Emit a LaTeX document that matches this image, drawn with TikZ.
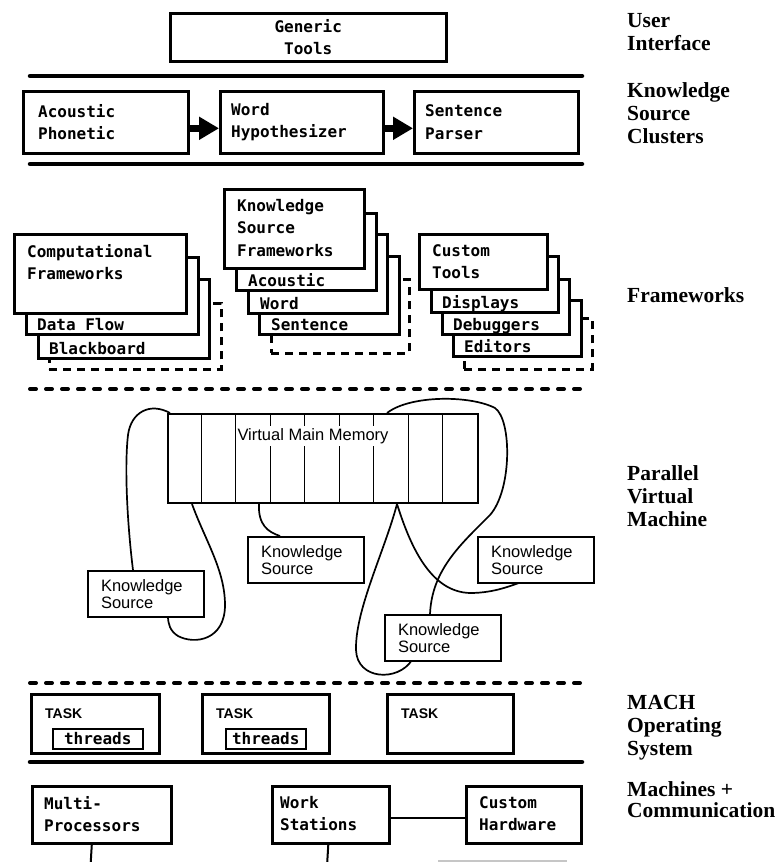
\documentclass[tikz,border=0pt]{standalone}
\usepackage{fontspec}
\newfontfamily\monofont{DejaVu Sans Mono}
\newfontfamily\helvfont{Liberation Sans}
\newfontfamily\labelfont{Liberation Serif}
\usetikzlibrary{calc,arrows.meta}

\begin{document}
\begin{tikzpicture}[x=1pt, y=-1pt,
    every node/.style={inner sep=0pt},
    box/.style={draw, line width=2.6pt, fill=white, anchor=north west},
    dashcard/.style={box, dash pattern=on 8pt off 6pt},
    mono/.style={font=\monofont\bfseries\fontsize{16}{22.5}\selectfont, align=left, anchor=north west},
    cardtext/.style={font=\monofont\bfseries\fontsize{16}{22.5}\selectfont, anchor=base west},
    tasktext/.style={font=\helvfont\bfseries\fontsize{14}{16}\selectfont, anchor=base west},
    ksbox/.style={draw, line width=2pt, fill=white, anchor=north west,
      font=\helvfont\fontsize{16.5}{17}\selectfont, align=left,
      text width=90pt, inner xsep=13pt, minimum height=46pt},
    layer/.style={font=\labelfont\bfseries\fontsize{21.5}{23}\selectfont, align=left, anchor=north west},
    sepline/.style={line width=4.5pt, line cap=round},
    sepdash/.style={line width=4pt, line cap=round, dash pattern=on 6pt off 10pt},
    wire/.style={line width=1.7pt},
    bigarrow/.style={line width=7pt, -{Triangle[length=20pt,width=22pt]}}]

  \useasboundingbox (0,0) rectangle (777,862);

  %--- User Interface
  \node[box, minimum width=276pt, minimum height=48pt] (generic) at (169,12) {};
  \node[mono, align=center, anchor=center] (generictxt) at (generic.center) {Generic\\Tools};

  \draw[sepline] (30,76) -- (582,76);

  %--- Knowledge Source Clusters
  \node[box, minimum width=165pt, minimum height=62pt] (acph) at (22,90) {};
  \node[box, minimum width=163pt, minimum height=62pt] (wordhyp) at (219,90) {};
  \node[box, minimum width=164pt, minimum height=62pt] (senpar) at (413,90) {};
  \node[mono, anchor=west] (acphtxt) at ([xshift=16pt]acph.west) {Acoustic\\Phonetic};
  \node[mono, anchor=west] (wordhyptxt) at ([xshift=12pt]wordhyp.west) {Word\\Hypothesizer};
  \node[mono, anchor=west] (senpartxt) at ([xshift=12pt]senpar.west) {Sentence\\Parser};
  \draw[bigarrow] ([yshift=-6pt]acph.east) -- ([yshift=-6pt]wordhyp.west);
  \draw[bigarrow] ([yshift=-6pt]wordhyp.east) -- ([yshift=-6pt]senpar.west);

  \draw[sepline] (30,164) -- (582,164);

  %--- Frameworks: Stapel von hinten nach vorne
  % Computational Frameworks
  \node[dashcard, minimum width=172pt, minimum height=66pt] (cfd) at (48,302) {};
  \node[box, minimum width=171pt, minimum height=79pt] (bb) at (37,278) {};
  \node[box, minimum width=172pt, minimum height=77pt] (df) at (25,256) {};
  \node[box, minimum width=172pt, minimum height=79pt] (cf) at (13,233) {};
  \node[mono] (cftxt) at ([xshift=14pt, yshift=-11pt]cf.north west) {Computational\\Frameworks};
  \node[cardtext] (dftxt) at ([xshift=12pt, yshift=5pt]df.south west) {Data Flow};
  \node[cardtext] (bbtxt) at ([xshift=12pt, yshift=5pt]bb.south west) {Blackboard};

  % Knowledge Source Frameworks
  \node[dashcard, minimum width=138pt, minimum height=74pt] (ksfd) at (270,278) {};
  \node[box, minimum width=140pt, minimum height=78pt] (sen) at (258,255) {};
  \node[box, minimum width=139pt, minimum height=79pt] (wrd) at (247,233) {};
  \node[box, minimum width=140pt, minimum height=77pt] (aco) at (235,212) {};
  \node[box, minimum width=140pt, minimum height=79pt] (ksf) at (223,188) {};
  \node[mono] (ksftxt) at ([xshift=14pt, yshift=-11pt]ksf.north west) {Knowledge\\Source\\Frameworks};
  \node[cardtext] (acotxt) at ([xshift=13pt, yshift=5pt]aco.south west) {Acoustic};
  \node[cardtext] (wrdtxt) at ([xshift=13pt, yshift=5pt]wrd.south west) {Word};
  \node[cardtext] (sentxt) at ([xshift=13pt, yshift=5pt]sen.south west) {Sentence};

  % Custom Tools
  \node[dashcard, minimum width=128pt, minimum height=51pt] (ctd) at (463,317) {};
  \node[box, minimum width=128pt, minimum height=56pt] (edi) at (452,299) {};
  \node[box, minimum width=127pt, minimum height=55pt] (dbg) at (441,278) {};
  \node[box, minimum width=127pt, minimum height=56pt] (dsp) at (430,255) {};
  \node[box, minimum width=128pt, minimum height=55pt] (ct) at (418,233) {};
  \node[mono] (cttxt) at ([xshift=14pt, yshift=-11pt]ct.north west) {Custom\\Tools};
  \node[cardtext] (dsptxt) at ([xshift=12pt, yshift=5pt]dsp.south west) {Displays};
  \node[cardtext] (dbgtxt) at ([xshift=12pt, yshift=5pt]dbg.south west) {Debuggers};
  \node[cardtext] (editxt) at ([xshift=12pt, yshift=5pt]edi.south west) {Editors};

  \draw[sepdash] (30,389) -- (582,389);

  %--- Parallel Virtual Machine
  \node[draw, line width=2pt, anchor=north west, minimum width=310pt, minimum height=89pt] (vmm) at (167,413) {};
  \foreach \i in {1,...,8}
    \draw[line width=1.1pt] ($(vmm.north west)+(\i*34.44,0)$) -- ($(vmm.south west)+(\i*34.44,0)$);
  \node[fill=white, inner sep=2pt, font=\helvfont\fontsize{16.5}{17}\selectfont] (vmmtxt) at (313,436) {Virtual Main Memory};

  \coordinate (vmmfork) at ($(vmm.south west)+(230,0)$);

  % Verbindungen (freihand)
  \draw[wire] ($(vmm.north west)+(3,0)$) .. controls (150,402) and (131,412) .. (128,435)
    .. controls (124,470) and (128,530) .. (133,570);
  \draw[wire] ($(vmm.south west)+(25,0)$) .. controls (205,540) and (225,570) .. (225,605)
    .. controls (225,640) and (195,645) .. (178,636) .. controls (170,631) and (168,624) .. (168,616);
  \draw[wire] ($(vmm.south west)+(92,0)$) .. controls (258,525) and (268,532) .. (280,536);
  \draw[wire] (vmmfork) .. controls (385,550) and (355,610) .. (356,650)
    .. controls (357,680) and (398,682) .. (412,660);
  \draw[wire] (vmmfork) .. controls (410,545) and (430,592) .. (470,593)
    .. controls (495,593) and (512,585) .. (522,582);
  \draw[wire] (430,614) .. controls (432,570) and (460,545) .. (490,515)
    .. controls (512,490) and (512,420) .. (495,408) .. controls (470,395) and (410,395) .. ($(vmm.north west)+(220,0)$);

  \node[ksbox] (ksA) at (87,570) {Knowledge\\Source};
  \node[ksbox] (ksB) at (247,536) {Knowledge\\Source};
  \node[ksbox] (ksC) at (477,536) {Knowledge\\Source};
  \node[ksbox] (ksD) at (384,614) {Knowledge\\Source};

  \draw[sepdash] (30,683) -- (582,683);

  %--- MACH Operating System
  \node[box, minimum width=128pt, minimum height=59pt] (task1) at (30,693) {};
  \node[box, minimum width=127pt, minimum height=59pt] (task2) at (201,693) {};
  \node[box, minimum width=126pt, minimum height=59pt] (task3) at (386,693) {};
  \node[tasktext] (task1txt) at ([xshift=15pt, yshift=-25pt]task1.north west) {TASK};
  \node[tasktext] (task2txt) at ([xshift=15pt, yshift=-25pt]task2.north west) {TASK};
  \node[tasktext] (task3txt) at ([xshift=15pt, yshift=-25pt]task3.north west) {TASK};
  \node[draw, line width=1.6pt, anchor=north west, minimum width=90pt, minimum height=20pt,
    font=\monofont\bfseries\fontsize{16}{18}\selectfont] (thr1) at (52,728) {threads};
  \node[draw, line width=1.6pt, anchor=north west, minimum width=80pt, minimum height=20pt,
    font=\monofont\bfseries\fontsize{16}{18}\selectfont] (thr2) at (225,728) {threads};

  \draw[sepline] (30,762) -- (582,762);

  %--- Machines + Communication
  \node[box, minimum width=139pt, minimum height=57pt] (mp) at (31,785) {};
  \node[box, minimum width=117pt, minimum height=57pt] (ws) at (271,785) {};
  \node[box, minimum width=115pt, minimum height=57pt] (ch) at (465,785) {};
  \node[mono] (mptxt) at ([xshift=13pt, yshift=-11pt]mp.north west) {Multi-\\Processors};
  \node[mono] (wstxt) at ([xshift=9pt, yshift=-11pt]ws.north west) {Work\\Stations};
  \node[mono] (chtxt) at ([xshift=14pt, yshift=-11pt]ch.north west) {Custom\\Hardware};
  \draw[line width=2pt] ([yshift=-3pt]ws.east) -- ([yshift=-3pt]ch.west);

  \coordinate (mpfoot) at (90.5,866);
  \coordinate (wsfoot) at (327,866);
  \draw[line width=2pt] ([xshift=-10pt]mp.south) -- (mpfoot);
  \draw[line width=2pt] ([xshift=-2.5pt]ws.south) -- (wsfoot);
  \draw[gray!45, line width=1.5pt] (438,861) -- (567,861);

  %--- Ebenen rechts
  \node[layer] (lui) at (627,13) {User\\Interface};
  \node[layer] (lksc) at (627,82) {Knowledge\\Source\\Clusters};
  \node[layer] (lfw) at (627,287) {Frameworks};
  \node[layer] (lpvm) at (627,465) {Parallel\\Virtual\\Machine};
  \node[layer] (lmach) at (627,695) {MACH\\Operating\\System};
  \node[layer, font=\labelfont\bfseries\fontsize{21.5}{21}\selectfont] (lmc) at (627,781) {Machines +\\Communication};
\end{tikzpicture}
\end{document}
